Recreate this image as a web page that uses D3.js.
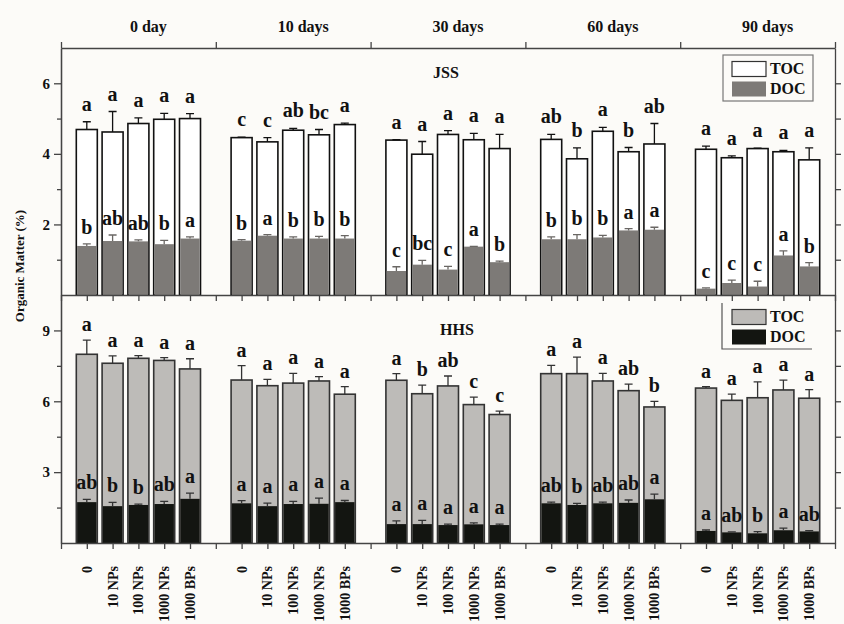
<!DOCTYPE html>
<html>
<head>
<meta charset="utf-8">
<script src="https://cdn.jsdelivr.net/npm/d3@7"></script>
<style>
  body { margin: 0; background: #fcfbf8; }
  svg { display: block; font-family: "Liberation Serif", "Times New Roman", serif; font-weight: bold; }
  .axis path, .axis line { stroke: #444; stroke-width: 1.3; }
  .axis text { font-family: "Liberation Serif", serif; font-weight: bold; font-size: 15px; fill: #111; }
</style>
</head>
<body>
<svg></svg>
<script>
//begin: data
var groups = ["0 day", "10 days", "30 days", "60 days", "90 days"];
var treatments = ["0", "10 NPs", "100 NPs", "1000 NPs", "1000 BPs"];

// JSS
var jssToc = [4.69,4.62,4.86,4.98,5.00, 4.46,4.34,4.67,4.54,4.83, 4.39,3.99,4.55,4.40,4.15, 4.41,3.86,4.64,4.06,4.28, 4.13,3.89,4.15,4.06,3.83];
var jssTocErr = [0.22,0.58,0.16,0.17,0.14, 0.01,0.12,0.05,0.15,0.04, 0.01,0.36,0.11,0.18,0.40, 0.14,0.31,0.11,0.12,0.58, 0.09,0.05,0.01,0.04,0.34];
var jssDoc = [1.39,1.53,1.52,1.44,1.60, 1.54,1.68,1.60,1.60,1.60, 0.68,0.86,0.72,1.37,0.93, 1.58,1.58,1.63,1.83,1.85, 0.18,0.34,0.24,1.12,0.81];
var jssDocErr = [0.06,0.17,0.04,0.11,0.05, 0.03,0.03,0.05,0.06,0.08, 0.12,0.12,0.09,0.01,0.03, 0.07,0.13,0.06,0.05,0.07, 0.02,0.08,0.15,0.13,0.11];
var jssTocLetters = ["a","a","a","a","a", "c","c","ab","bc","a", "a","a","a","a","a", "ab","b","a","b","ab", "a","a","a","a","a"];
var jssDocLetters = ["b","ab","ab","b","a", "b","a","b","b","b", "c","bc","c","a","b", "b","b","b","a","a", "c","c","c","a","b"];

// HHS
var hhsToc = [7.99,7.61,7.82,7.73,7.37, 6.90,6.66,6.77,6.86,6.30, 6.89,6.32,6.65,5.86,5.44, 7.17,7.17,6.86,6.45,5.76, 6.56,6.04,6.15,6.48,6.13];
var hhsTocErr = [0.60,0.31,0.11,0.12,0.43, 0.61,0.27,0.41,0.18,0.32, 0.28,0.36,0.42,0.32,0.14, 0.35,0.70,0.32,0.28,0.24, 0.06,0.26,0.67,0.42,0.36];
var hhsDoc = [1.73,1.56,1.61,1.65,1.87, 1.68,1.56,1.65,1.66,1.73, 0.80,0.80,0.76,0.79,0.76, 1.68,1.61,1.68,1.70,1.85, 0.51,0.45,0.41,0.54,0.49];
var hhsDocErr = [0.12,0.16,0.04,0.11,0.24, 0.11,0.13,0.11,0.24,0.07, 0.14,0.16,0.04,0.06,0.04, 0.05,0.07,0.05,0.12,0.22, 0.04,0.02,0.07,0.09,0.03];
var hhsTocLetters = ["a","a","a","a","a", "a","a","a","a","a", "a","b","ab","c","c", "a","a","a","ab","b", "a","a","a","a","a"];
var hhsDocLetters = ["ab","b","b","ab","a", "a","a","a","a","a", "a","a","a","a","a", "ab","b","ab","ab","a", "a","ab","b","a","ab"];
//end: data

//begin: layout conf.
var svgWidth = 844,
    svgHeight = 624,
    plotLeft = 61, plotRight = 835,
    plotTop = 48, plotMid = 295, plotBottom = 543,
    barWidth = 21,
    capWidth = 8;
//end: layout conf.

var svg = d3.select("svg").attr("width", svgWidth).attr("height", svgHeight);
svg.append("rect").attr("width", svgWidth).attr("height", svgHeight).attr("fill", "#fcfbf8");

// one slot per bar, an empty slot between days
function slot(i) { return Math.floor(i / 5) * 6 + (i % 5); }
var x = d3.scaleLinear().domain([-1, 29]).range([plotLeft, plotRight]);

var panels = [
  { name: "JSS", toc: jssToc, tocErr: jssTocErr, doc: jssDoc, docErr: jssDocErr,
    tocL: jssTocLetters, docL: jssDocLetters,
    y: d3.scaleLinear().domain([0, 7]).range([plotMid, plotTop]),
    major: [2, 4, 6], minor: [1, 3, 5],
    tocFill: "#ffffff", tocStroke: "#111", docFill: "#7d7a77", docErrStroke: "#6a6764",
    tocGap: 11, label: [433, 78], legendY: 55, legendBox: true },
  { name: "HHS", toc: hhsToc, tocErr: hhsTocErr, doc: hhsDoc, docErr: hhsDocErr,
    tocL: hhsTocLetters, docL: hhsDocLetters,
    y: d3.scaleLinear().domain([0, 10.5]).range([plotBottom, plotMid]),
    major: [3, 6, 9], minor: [1.5, 4.5, 7.5],
    tocFill: "#bdbbb8", tocStroke: "#333", docFill: "#131511", docErrStroke: "#333",
    tocGap: 9, label: [440, 335], legendY: 303, legendBox: false }
];

panels.forEach(function(p) {
  var y = p.y;
  var y0 = y(0);
  var g = svg.append("g");
  var idx = d3.range(p.toc.length);

  // TOC bars
  g.selectAll(".toc").data(idx).enter().append("rect")
      .attr("x", function(i){ return x(slot(i)) - barWidth/2; })
      .attr("y", function(i){ return y(p.toc[i]); })
      .attr("width", barWidth)
      .attr("height", function(i){ return y0 - y(p.toc[i]); })
      .attr("fill", p.tocFill)
      .attr("stroke", p.tocStroke)
      .attr("stroke-width", 1.6);

  drawErr(g, idx, p.toc, p.tocErr, y, p.tocStroke);

  // DOC bars
  g.selectAll(".doc").data(idx).enter().append("rect")
      .attr("x", function(i){ return x(slot(i)) - barWidth/2 + 0.8; })
      .attr("y", function(i){ return y(p.doc[i]); })
      .attr("width", barWidth - 1.6)
      .attr("height", function(i){ return y0 - y(p.doc[i]); })
      .attr("fill", p.docFill);

  drawErr(g, idx, p.doc, p.docErr, y, p.docErrStroke);

  // letters
  g.selectAll(".lt").data(idx).enter().append("text")
      .attr("x", function(i){ return x(slot(i)); })
      .attr("y", function(i){ return y(p.toc[i] + p.tocErr[i]) - p.tocGap; })
      .attr("text-anchor", "middle")
      .style("font-size", "20px")
      .attr("fill", "#111")
      .text(function(i){ return p.tocL[i]; });
  g.selectAll(".ld").data(idx).enter().append("text")
      .attr("x", function(i){ return x(slot(i)); })
      .attr("y", function(i){ return y(p.doc[i] + p.docErr[i]) - 10; })
      .attr("text-anchor", "middle")
      .style("font-size", "20px")
      .attr("fill", "#111")
      .text(function(i){ return p.docL[i]; });

  // y axes
  g.append("g").attr("class", "axis").attr("transform", "translate(" + plotLeft + ",0)")
      .call(d3.axisLeft(y).tickValues(p.major).tickFormat(d3.format("d")).tickSize(7).tickSizeOuter(0).tickPadding(4));
  g.append("g").attr("class", "axis").attr("transform", "translate(" + plotLeft + ",0)")
      .call(d3.axisLeft(y).tickValues(p.minor).tickSize(4).tickSizeOuter(0).tickFormat(""));
  g.append("g").attr("class", "axis").attr("transform", "translate(" + plotRight + ",0)")
      .call(d3.axisRight(y).tickValues(p.major.concat(p.minor)).tickSize(6).tickSizeOuter(0).tickFormat(""));
  // x axis at panel bottom
  g.append("g").attr("class", "axis").attr("transform", "translate(0," + y0 + ")")
      .call(d3.axisBottom(x).tickValues(d3.range(-1, 30)).tickSize(6).tickSizeOuter(0).tickFormat(""));

  g.append("text")
      .attr("x", p.label[0]).attr("y", p.label[1])
      .style("font-size", "16px").attr("fill", "#111")
      .text(p.name);

  // legend
  var lg = g.append("g").attr("transform", "translate(0," + p.legendY + ")");
  if (p.legendBox) {
    lg.append("rect").attr("x", 723).attr("y", 0).attr("width", 90).attr("height", 46)
        .attr("fill", "none").attr("stroke", "#777").attr("stroke-width", 1.2);
  } else {
    lg.append("path").attr("d", "M722,0V46H812")
        .attr("fill", "none").attr("stroke", "#555").attr("stroke-width", 1.2);
  }
  var items = [["TOC", p.tocFill, p.tocStroke], ["DOC", p.docFill, p.docFill]];
  items.forEach(function(it, k) {
    lg.append("rect").attr("x", 732).attr("y", 6.5 + k*20).attr("width", 34).attr("height", 15)
        .attr("fill", it[1]).attr("stroke", k == 0 ? "#333" : "none").attr("stroke-width", 1.2);
    lg.append("text").attr("x", 770).attr("y", 19 + k*20)
        .style("font-size", "16px").attr("fill", "#111").text(it[0]);
  });
});

function drawErr(g, idx, vals, errs, y, color) {
  g.selectAll(null).data(idx).enter().append("path")
      .attr("d", function(i){
        var cx = x(slot(i)), yt = y(vals[i] + errs[i]), yb = y(vals[i]);
        return "M" + cx + "," + yb + "V" + yt + "M" + (cx - capWidth/2) + "," + yt + "H" + (cx + capWidth/2);
      })
      .attr("fill", "none")
      .attr("stroke", color)
      .attr("stroke-width", 1.3);
}

// top axis with day headers
svg.append("g").attr("class", "axis").attr("transform", "translate(0," + plotTop + ")")
    .call(d3.axisTop(x).tickValues([-1, 5, 11, 17, 23, 29]).tickSize(6).tickSizeOuter(0).tickFormat(""));
svg.selectAll(".day").data(groups).enter().append("text")
    .attr("x", function(d, k){ return x(k*6 + 2) + 10; })
    .attr("y", 32)
    .attr("text-anchor", "middle")
    .style("font-size", "16px")
    .attr("fill", "#111")
    .text(function(d){ return d; });

// treatment labels, rotated
var tickLabels = [];
groups.forEach(function(d, k){ treatments.forEach(function(t, j){ tickLabels.push({ s: k*6 + j, t: t }); }); });
svg.selectAll(".tl").data(tickLabels).enter().append("text")
    .attr("transform", function(d){ return "translate(" + (x(d.s) + 5) + ",566) rotate(-90)"; })
    .attr("text-anchor", "end")
    .style("font-size", "14px")
    .attr("fill", "#111")
    .text(function(d){ return d.t; });

svg.append("text")
    .attr("transform", "translate(24,266) rotate(-90)")
    .attr("text-anchor", "middle")
    .style("font-size", "13px")
    .attr("fill", "#111")
    .text("Organic Matter (%)");
</script>
</body>
</html>
